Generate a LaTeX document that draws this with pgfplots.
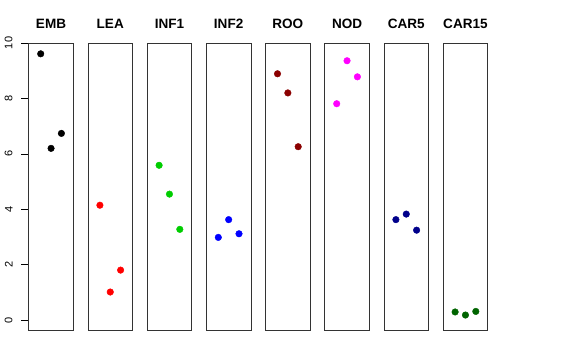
\documentclass[border=0pt]{standalone}
\usepackage{pgfplots}
\pgfplotsset{compat=1.18}
\usepackage{fontspec}
\setmainfont{Liberation Sans}
\definecolor{cEMB}{RGB}{0,0,0}
\definecolor{cLEA}{RGB}{255,0,0}
\definecolor{cINFa}{RGB}{0,205,0}
\definecolor{cINFb}{RGB}{0,0,255}
\definecolor{cROO}{RGB}{139,0,0}
\definecolor{cNOD}{RGB}{255,0,255}
\definecolor{cCARa}{RGB}{0,0,139}
\definecolor{cCARb}{RGB}{0,100,0}
\pgfplotsset{
  panel/.style={
    scale only axis, width=44.7bp, height=287.7bp,
    anchor=south west,
    xmin=-0.16, xmax=4.16, ymin=-0.375, ymax=10,
    xtick=\empty, ytick=\empty,
    axis line style={black!80, line width=0.8bp},
    title style={anchor=base, at={(0.5,1)}, yshift=9bp, font=\bfseries\fontsize{13.6}{15}\selectfont},
    clip=false,
  }
}
\newcommand{\panel}[4]{%
\begin{axis}[panel, at={(28.7bp+59.2bp*#1,29.3bp)}, title={#2}]
\addplot[only marks, mark=*, mark size=3.3bp, color=#3, mark options={draw=#3, fill=#3}] coordinates {#4};
\end{axis}}
\begin{document}
\begin{tikzpicture}
\useasboundingbox (0,0) rectangle (576bp,360bp);
\begin{axis}[panel, at={(28.7bp,29.3bp)}, title={EMB},
  ytick={0,2,4,6,8,10}, ytick pos=left, ytick align=outside, major tick length=7.7bp,
  tick style={black, line width=0.8bp},
  yticklabel style={rotate=90, anchor=south, inner sep=0pt, font=\fontsize{11}{13}\selectfont},
  yticklabel shift=8.2bp,
  /pgf/number format/assume math mode=true]
\addplot[only marks, mark=*, mark size=3.3bp, color=cEMB] coordinates {(1,9.61) (2,6.20) (3,6.74)};
\end{axis}
\panel{1}{LEA}{cLEA}{(1,4.15) (2,1.02) (3,1.81)}
\panel{2}{INF1}{cINFa}{(1,5.59) (2,4.55) (3,3.28)}
\panel{3}{INF2}{cINFb}{(1,2.99) (2,3.63) (3,3.12)}
\panel{4}{ROO}{cROO}{(1,8.89) (2,8.20) (3,6.26)}
\panel{5}{NOD}{cNOD}{(1,7.81) (2,9.36) (3,8.78)}
\panel{6}{CAR5}{cCARa}{(1,3.63) (2,3.83) (3,3.25)}
\panel{7}{CAR15}{cCARb}{(1,0.30) (2,0.19) (3,0.32)}
\end{tikzpicture}
\end{document}
